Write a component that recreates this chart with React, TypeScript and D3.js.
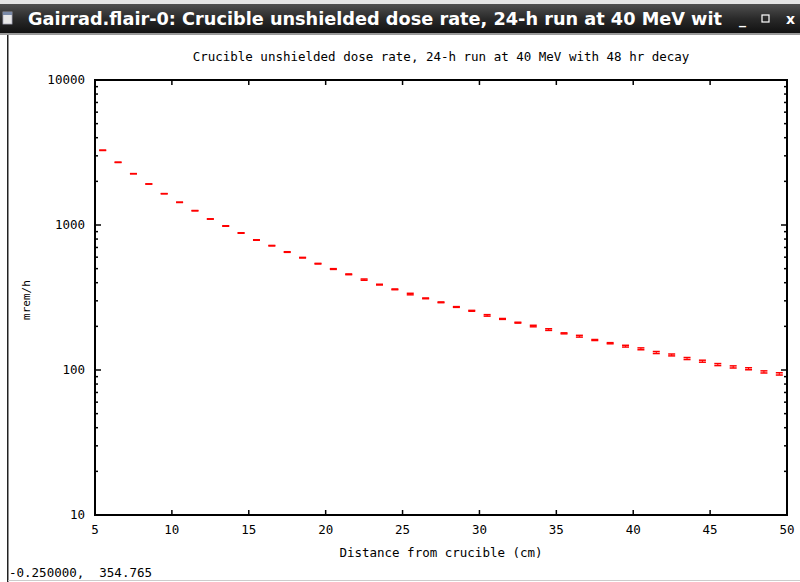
import React from 'react';
import * as d3 from 'd3';

const windowTitle = 'Gairrad.flair-0: Crucible unshielded dose rate, 24-h run at 40 MeV wit';
const chartTitle = 'Crucible unshielded dose rate, 24-h run at 40 MeV with 48 hr decay';
const xLabel = 'Distance from crucible (cm)';
const yLabel = 'mrem/h';
const statusText = '-0.250000,  354.765';

const distances = [
  5.5, 6.5, 7.5, 8.5, 9.5, 10.5, 11.5, 12.5, 13.5, 14.5,
  15.5, 16.5, 17.5, 18.5, 19.5, 20.5, 21.5, 22.5, 23.5, 24.5,
  25.5, 26.5, 27.5, 28.5, 29.5, 30.5, 31.5, 32.5, 33.5, 34.5,
  35.5, 36.5, 37.5, 38.5, 39.5, 40.5, 41.5, 42.5, 43.5, 44.5,
  45.5, 46.5, 47.5, 48.5, 49.5,
];
const doseRate = [
  3275, 2706, 2258, 1918, 1644, 1434, 1255, 1100, 984, 881,
  788, 720, 651, 595, 541, 497, 457, 420, 388, 360,
  334, 312, 293, 272, 256, 238, 225, 212, 201, 190,
  179, 171, 161, 153, 146, 140, 132, 127, 120, 115,
  109, 105, 102, 97, 94,
];
const relError = [
  0.003, 0.003, 0.002, 0.002, 0.002, 0.003, 0.003, 0.003, 0.004, 0.004,
  0.004, 0.004, 0.005, 0.005, 0.005, 0.006, 0.006, 0.01, 0.006, 0.006,
  0.012, 0.006, 0.006, 0.006, 0.007, 0.012, 0.007, 0.007, 0.012, 0.013,
  0.008, 0.014, 0.008, 0.009, 0.014, 0.015, 0.016, 0.015, 0.016, 0.016,
  0.016, 0.017, 0.016, 0.017, 0.018,
];
const xTicks = [5, 10, 15, 20, 25, 30, 35, 40, 45, 50];
const yTicks = [10, 100, 1000, 10000];

const W = 800;
const H = 582;
const M = { left: 95, right: 787, top: 80, bottom: 515 };
const MONO = '"DejaVu Sans Mono", "Liberation Mono", monospace';
const RED = '#ff0000';
const FS = 12.5;

export default function App() {
  const x = d3.scaleLinear().domain([5, 50]).range([M.left, M.right]);
  const y = d3.scaleLog().domain([10, 10000]).range([M.bottom, M.top]);

  const minorY: number[] = [];
  for (const d of [10, 100, 1000]) {
    for (let k = 2; k <= 9; k++) minorY.push(d * k);
  }

  const cx = (M.left + M.right) / 2;

  return (
    <svg
      width={W}
      height={H}
      viewBox={`0 0 ${W} ${H}`}
      style={{ position: 'absolute', left: 0, top: 0, background: '#fff' }}
    >
      <defs>
        <linearGradient id="tb" x1="0" y1="0" x2="0" y2="1">
          <stop offset="0" stopColor="#505050" />
          <stop offset="0.5" stopColor="#2a2a2a" />
          <stop offset="1" stopColor="#111" />
        </linearGradient>
        <clipPath id="plotClip">
          <rect x={M.left} y={M.top} width={M.right - M.left} height={M.bottom - M.top} />
        </clipPath>
      </defs>
      <rect x={0} y={0} width={W} height={H} fill="#fff" />
      {/* window title bar */}
      <rect x={0} y={0} width={W} height={4} fill="#e4e4e4" />
      <rect x={0} y={4} width={W} height={29} fill="url(#tb)" />
      <rect x={0} y={33} width={W} height={2} fill="#9a9a9a" />
      <rect x={3} y={12} width={9} height={12} fill="#e8e8e8" stroke="#aab" strokeWidth={0.8} />
      <rect x={3} y={12} width={9} height={3} fill="#7a8aa8" />
      <text
        x={28}
        y={25}
        fill="#fff"
        fontFamily='"DejaVu Sans", sans-serif'
        fontWeight="bold"
        fontSize={17.5}
        textLength={694}
        lengthAdjust="spacingAndGlyphs"
      >
        {windowTitle}
      </text>
      <text x={739} y={24} fill="#fff" fontFamily='"DejaVu Sans", sans-serif' fontWeight="bold" fontSize={14}>
        _
      </text>
      <rect x={762} y={15} width={7} height={7} fill="none" stroke="#fff" strokeWidth={1.2} />
      <text x={786} y={24} fill="#fff" fontFamily='"DejaVu Sans", sans-serif' fontWeight="bold" fontSize={14}>
        x
      </text>
      {/* window left border */}
      <rect x={7} y={35} width={1.5} height={H - 35} fill="#222" />
      <rect x={8} y={580} width={W - 8} height={1} fill="#ccc" />

      {/* chart title */}
      <text x={cx} y={61} textAnchor="middle" fontFamily={MONO} fontSize={FS} fill="#000">
        {chartTitle}
      </text>

      {/* data: error bars with caps */}
      <g clipPath="url(#plotClip)" stroke={RED}>
        {distances.map((d, i) => {
          const v = doseRate[i];
          const e = v * relError[i];
          const px = x(d);
          const y1 = y(v + e);
          const y0 = y(v - e);
          return (
            <g key={i}>
              <line x1={px} x2={px} y1={y1} y2={y0} strokeWidth={1} />
              <line x1={px - 3.5} x2={px + 3.5} y1={y1} y2={y1} strokeWidth={1.5} />
              <line x1={px - 3.5} x2={px + 3.5} y1={y0} y2={y0} strokeWidth={1.5} />
            </g>
          );
        })}
      </g>

      {/* ticks */}
      <g stroke="#000" strokeWidth={1.5}>
        {yTicks.map((t) => (
          <g key={'y' + t}>
            <line x1={M.left} x2={M.left + 6} y1={y(t)} y2={y(t)} />
            <line x1={M.right} x2={M.right - 6} y1={y(t)} y2={y(t)} />
          </g>
        ))}
        {minorY.map((t) => (
          <g key={'m' + t}>
            <line x1={M.left} x2={M.left + 3} y1={y(t)} y2={y(t)} />
            <line x1={M.right} x2={M.right - 3} y1={y(t)} y2={y(t)} />
          </g>
        ))}
        {xTicks.map((t) => (
          <g key={'x' + t}>
            <line x1={x(t)} x2={x(t)} y1={M.bottom} y2={M.bottom - 5} />
            <line x1={x(t)} x2={x(t)} y1={M.top} y2={M.top + 5} />
          </g>
        ))}
      </g>
      {/* border */}
      <rect
        x={M.left}
        y={M.top}
        width={M.right - M.left}
        height={M.bottom - M.top}
        fill="none"
        stroke="#000"
        strokeWidth={2}
      />

      {/* tick labels */}
      <g fontFamily={MONO} fontSize={FS} fill="#000">
        {yTicks.map((t) => (
          <text key={'yl' + t} x={85} y={y(t) + 4} textAnchor="end">
            {String(t)}
          </text>
        ))}
        {xTicks.map((t) => (
          <text key={'xl' + t} x={x(t)} y={534} textAnchor="middle">
            {String(t)}
          </text>
        ))}
      </g>

      {/* axis labels */}
      <text x={cx} y={557} textAnchor="middle" fontFamily={MONO} fontSize={FS} fill="#000">
        {xLabel}
      </text>
      <text
        transform={`translate(30,300) rotate(-90)`}
        textAnchor="middle"
        fontFamily={MONO}
        fontSize={11}
        fill="#000"
      >
        {yLabel}
      </text>

      {/* status bar */}
      <text x={9} y={577} fontFamily={MONO} fontSize={FS} fill="#000" style={{ whiteSpace: 'pre' }}>
        {statusText}
      </text>
    </svg>
  );
}
